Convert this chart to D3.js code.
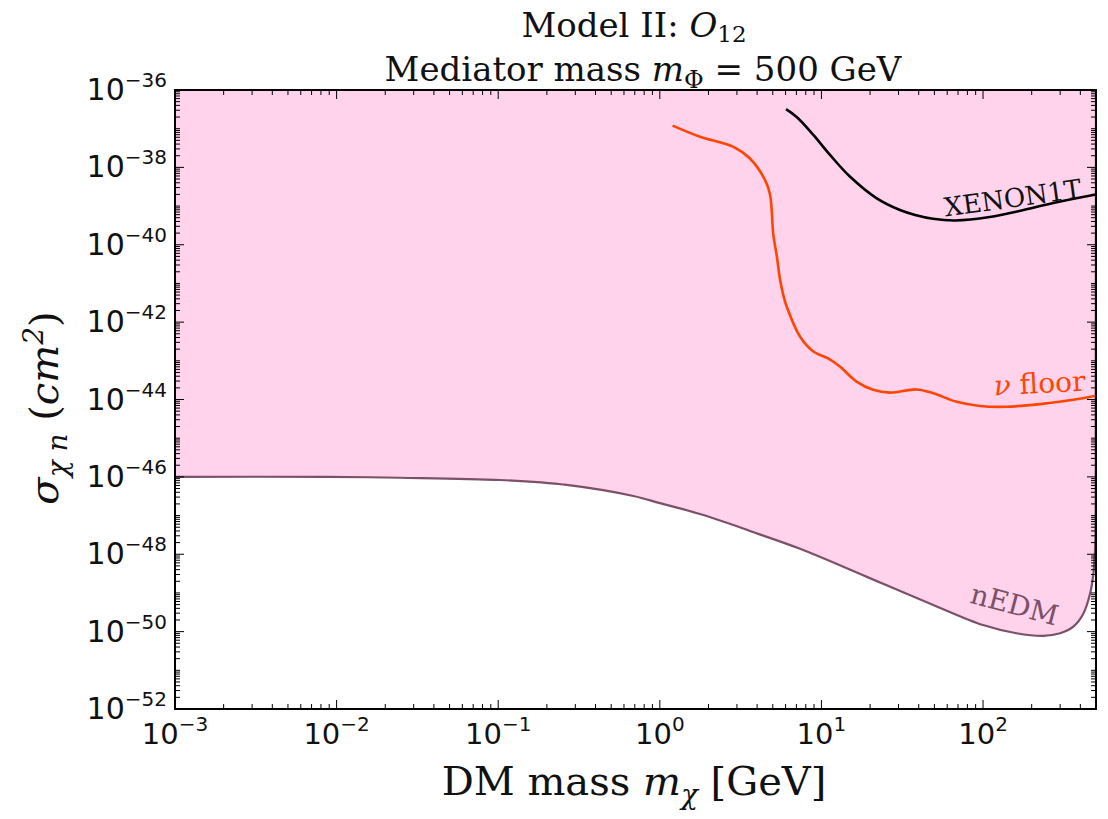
<!DOCTYPE html>
<html><head><meta charset="utf-8">
<script src="https://cdn.jsdelivr.net/npm/d3@7"></script>
<style>body{margin:0;background:#fff}</style>
</head><body>
<svg id="c" width="1108" height="819"></svg>
<script>
// ---- data ----
const nuFloorMass  = [1.2, 1.77, 2.85, 3.61, 4.48, 4.81, 5.04, 5.28, 5.55, 5.81, 6.10, 7.38, 8.92, 11.0, 13.0, 16.5, 20.9, 26.6, 38.9, 49.2, 68.7, 95.7, 140, 225, 362, 500];
const nuFloorSigma = [1.2e-37, 6.2e-38, 3.4e-38, 1.7e-38, 4.7e-39, 1.95e-39, 1.8e-40, 5.5e-41, 1.23e-41, 5.0e-42, 2.5e-42, 4.2e-43, 1.74e-43, 1.15e-43, 7.1e-44, 2.9e-44, 1.78e-44, 1.51e-44, 1.82e-44, 1.45e-44, 8.7e-45, 6.8e-45, 6.5e-45, 7.6e-45, 9.8e-45, 1.25e-44];

const xenonMass  = [6.04, 7.03, 8.91, 11.3, 15.0, 22.0, 30.6, 38.0, 49.0, 67.1, 110, 178, 286, 500];
const xenonSigma = [3.2e-37, 2.0e-37, 6.9e-38, 2.1e-38, 5.8e-39, 1.58e-39, 7.9e-40, 5.9e-40, 4.7e-40, 4.25e-40, 5.2e-40, 7.9e-40, 1.26e-39, 2.0e-39];

const nedmMass  = [0.001, 0.0087, 0.0247, 0.103, 0.265, 0.686, 1.0, 1.77, 2.85, 3.61, 7.38, 19.1, 49.2, 100, 161, 236, 300, 362, 418, 460, 482, 494, 498, 500];
const nedmSigma = [1.0e-46, 1.0e-46, 9.5e-47, 8.3e-47, 6.2e-47, 3.2e-47, 2.1e-47, 1.1e-47, 5.7e-48, 4.0e-48, 1.38e-48, 2.6e-49, 4.9e-50, 1.48e-50, 9.1e-51, 7.8e-51, 9.1e-51, 1.35e-50, 2.95e-50, 9.8e-50, 3.2e-49, 1.6e-48, 1e-44, 1e-36];

const xTickExp = [-3, -2, -1, 0, 1, 2];
const yTickExp = [-36, -38, -40, -42, -44, -46, -48, -50, -52];

const titleLine1 = ["Model II: ", "O", "12"];
const titleLine2 = ["Mediator mass ", "m", "Φ", " = 500 GeV"];
const xLabelParts = ["DM mass ", "m", "χ", " [GeV]"];
const yLabelParts = ["σ", "χ n", " (", "cm", "2", ")"];
const curveLabels = ["XENON1T", "ν", " floor", "nEDM"];

// ---- layout ----
const L = 175, R = 1096, T = 90, B = 709;
const serif = "'DejaVu Serif', serif";
const sans = "'DejaVu Sans', sans-serif";
const pink = "#ffd3ec";
const orange = "#ff4500";
const nedmColor = "#7c5068";

const svg = d3.select("#c");
const x = d3.scaleLog().domain([1e-3, 500]).range([L, R]);
const y = d3.scaleLog().domain([1e-52, 1e-36]).range([B, T]);

svg.append("defs").append("clipPath").attr("id", "clip")
  .append("rect").attr("x", L).attr("y", T).attr("width", R - L).attr("height", B - T);

const plot = svg.append("g").attr("clip-path", "url(#clip)");

const nedm = nedmMass.map((m, i) => [m, nedmSigma[i]]);
const nu = nuFloorMass.map((m, i) => [m, nuFloorSigma[i]]);
const xe = xenonMass.map((m, i) => [m, xenonSigma[i]]);

const smooth = d3.curveCatmullRom.alpha(0.5);

// fill above nEDM
plot.append("path")
  .datum(nedm)
  .attr("fill", pink)
  .attr("d", d3.area().curve(smooth)
    .x(d => x(d[0])).y0(T).y1(d => y(d[1])));

const line = d3.line().curve(smooth).x(d => x(d[0])).y(d => y(d[1]));

plot.append("path").datum(nedm).attr("fill", "none").attr("stroke", nedmColor)
  .attr("stroke-width", 2.2).attr("d", line);
plot.append("path").datum(nu).attr("fill", "none").attr("stroke", orange)
  .attr("stroke-width", 2.6).attr("d", line);
plot.append("path").datum(xe).attr("fill", "none").attr("stroke", "#000")
  .attr("stroke-width", 2.6).attr("d", line);

// curve labels
svg.append("text").attr("transform", "translate(1014,207) rotate(-8)")
  .attr("text-anchor", "middle").attr("font-family", serif).attr("font-size", 26)
  .attr("fill", "#111").text(curveLabels[0]);
const nuT = svg.append("text").attr("transform", "translate(1040,393) rotate(-3)")
  .attr("text-anchor", "middle").attr("font-family", serif).attr("font-size", 28)
  .attr("fill", orange);
nuT.append("tspan").attr("font-style", "italic").text(curveLabels[1]);
nuT.append("tspan").text(curveLabels[2]);
svg.append("text").attr("transform", "translate(1012,614) rotate(15)")
  .attr("text-anchor", "middle").attr("font-family", serif).attr("font-size", 28)
  .attr("fill", nedmColor).text(curveLabels[3]);

// ticks
const ticks = svg.append("g").attr("stroke", "#000").attr("stroke-width", 1);
const majLen = 9, minLen = 5;
for (let n = -3; n <= 2; n++) {
  for (let k = 1; k <= 9; k++) {
    const v = k * Math.pow(10, n);
    if (v > 500) continue;
    const px = x(v), len = k === 1 ? majLen : minLen;
    ticks.append("line").attr("x1", px).attr("x2", px).attr("y1", B).attr("y2", B - len);
    ticks.append("line").attr("x1", px).attr("x2", px).attr("y1", T).attr("y2", T + len);
  }
}
for (let n = -52; n <= -36; n++) {
  for (let k = 1; k <= 9; k++) {
    if (n === -36 && k > 1) continue;
    const v = k * Math.pow(10, n);
    const py = y(v);
    const len = (k === 1 && n % 2 === 0) ? majLen : minLen;
    ticks.append("line").attr("y1", py).attr("y2", py).attr("x1", L).attr("x2", L + len);
    ticks.append("line").attr("y1", py).attr("y2", py).attr("x1", R).attr("x2", R - len);
  }
}

// frame
svg.append("rect").attr("x", L).attr("y", T).attr("width", R - L).attr("height", B - T)
  .attr("fill", "none").attr("stroke", "#000").attr("stroke-width", 2);

// tick labels
function expLabel(sel, e) {
  sel.append("tspan").text("10");
  sel.append("tspan").attr("font-size", 20).attr("dy", -13).text(e < 0 ? "−" + Math.abs(e) : String(e));
}
xTickExp.forEach(e => {
  const t = svg.append("text").attr("x", x(Math.pow(10, e))).attr("y", 744)
    .attr("text-anchor", "middle").attr("font-family", sans).attr("font-size", 29).attr("fill", "#111");
  expLabel(t, e);
});
yTickExp.forEach(e => {
  const t = svg.append("text").attr("x", 167).attr("y", y(Math.pow(10, e)) + 10)
    .attr("text-anchor", "end").attr("font-family", sans).attr("font-size", 30).attr("fill", "#111");
  expLabel(t, e);
});

// title
const t1 = svg.append("text").attr("x", 634).attr("y", 37).attr("text-anchor", "middle")
  .attr("font-family", serif).attr("font-size", 34).attr("fill", "#111");
t1.append("tspan").text(titleLine1[0]);
t1.append("tspan").attr("font-style", "italic").text(titleLine1[1]);
t1.append("tspan").attr("font-size", 23).attr("dy", 5).text(titleLine1[2]);

const t2 = svg.append("text").attr("x", 643).attr("y", 81).attr("text-anchor", "middle")
  .attr("font-family", serif).attr("font-size", 34).attr("fill", "#111");
t2.append("tspan").text(titleLine2[0]);
t2.append("tspan").attr("font-style", "italic").text(titleLine2[1]);
t2.append("tspan").attr("font-size", 24).attr("dy", 7).text(titleLine2[2]);
t2.append("tspan").attr("dy", -7).text(titleLine2[3]);

// x label
const xl = svg.append("text").attr("x", 634).attr("y", 795).attr("text-anchor", "middle")
  .attr("font-family", serif).attr("font-size", 40).attr("fill", "#111");
xl.append("tspan").text(xLabelParts[0]);
xl.append("tspan").attr("font-style", "italic").text(xLabelParts[1]);
xl.append("tspan").attr("font-style", "italic").attr("font-size", 28).attr("dy", 9).text(xLabelParts[2]);
xl.append("tspan").attr("dy", -9).text(xLabelParts[3]);

// y label
const yl = svg.append("text").attr("transform", "translate(58,408) rotate(-90)").attr("text-anchor", "middle")
  .attr("font-family", serif).attr("font-size", 40).attr("fill", "#111");
yl.append("tspan").attr("font-style", "italic").text(yLabelParts[0]);
yl.append("tspan").attr("font-style", "italic").attr("font-size", 28).attr("dy", 9).text(yLabelParts[1]);
yl.append("tspan").attr("dy", -9).text(yLabelParts[2]);
yl.append("tspan").attr("font-style", "italic").text(yLabelParts[3]);
yl.append("tspan").attr("font-style", "italic").attr("font-size", 28).attr("dy", -15).text(yLabelParts[4]);
yl.append("tspan").attr("dy", 15).text(yLabelParts[5]);
</script>
</body></html>
